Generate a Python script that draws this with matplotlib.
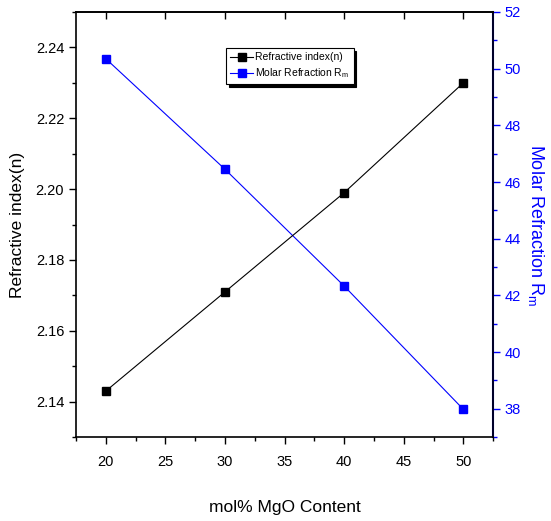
import matplotlib.pyplot as plt
from matplotlib.ticker import MultipleLocator

plt.rcParams['font.family'] = ['Liberation Sans', 'DejaVu Sans']
plt.rcParams['mathtext.fontset'] = 'custom'
plt.rcParams['mathtext.rm'] = 'Liberation Sans'
plt.rcParams['mathtext.it'] = 'Liberation Sans'

# data
mgo = [20, 30, 40, 50]
refr_index = [2.143, 2.171, 2.199, 2.230]
molar_refr = [50.35, 46.45, 42.33, 37.98]

fig = plt.figure(figsize=(5.51, 5.21), dpi=100)
ax = fig.add_axes([0.138, 0.161, 0.757, 0.816])
ax2 = ax.twinx()

l1, = ax.plot(mgo, refr_index, color='black', linewidth=0.8, marker='s',
              markersize=6, label='Refractive index(n)')
l2, = ax2.plot(mgo, molar_refr, color='blue', linewidth=0.8, marker='s',
               markersize=6, label='Molar Refraction R$_{\\mathrm{m}}$')

ax.set_xlim(17.5, 52.5)
ax.set_ylim(2.13, 2.25)
ax2.set_ylim(37, 52)

ax.xaxis.set_major_locator(MultipleLocator(5))
ax.xaxis.set_minor_locator(MultipleLocator(2.5))
ax.yaxis.set_major_locator(MultipleLocator(0.02))
ax.yaxis.set_minor_locator(MultipleLocator(0.01))
ax.yaxis.set_major_formatter(plt.FormatStrFormatter('%.2f'))
ax2.yaxis.set_major_locator(MultipleLocator(2))
ax2.yaxis.set_minor_locator(MultipleLocator(1))

ax.tick_params(axis='both', which='major', direction='out', length=5, width=1,
               labelsize=10.5)
ax.tick_params(axis='both', which='minor', direction='out', length=3, width=1)
ax.tick_params(axis='x', which='both', pad=8)
ax2.tick_params(axis='y', which='major', direction='out', length=5, width=1,
                labelsize=10.5, colors='blue')
ax2.tick_params(axis='y', which='minor', direction='out', length=3, width=1,
                colors='blue')

# inward major ticks on the top spine, no labels
top = ax.secondary_xaxis('top')
top.xaxis.set_major_locator(MultipleLocator(5))
top.tick_params(axis='x', direction='in', length=5, width=1, labeltop=False)
top.spines['top'].set_linewidth(1.2)

for s in ax.spines.values():
    s.set_linewidth(1.2)
ax2.spines['right'].set_color('blue')
ax2.spines['right'].set_linewidth(1.5)
ax2.spines['left'].set_visible(False)
ax2.spines['top'].set_visible(False)
ax2.spines['bottom'].set_visible(False)

ax.set_xlabel('mol% MgO Content', fontsize=12.5, labelpad=22)
ax.set_ylabel('Refractive index(n)', fontsize=12.5, labelpad=8)
ax2.set_ylabel('Molar Refraction R$_{\\mathrm{m}}$', fontsize=13, color='blue',
               rotation=270, labelpad=18)

leg = ax.legend(handles=[l1, l2], loc='upper left', bbox_to_anchor=(0.36, 0.915),
                fontsize=7.5, frameon=True, fancybox=False, edgecolor='black',
                shadow={'color': 'black', 'alpha': 1}, handlelength=2.2,
                handletextpad=0.2, borderpad=0.4, labelspacing=0.4,
                borderaxespad=0)
leg.get_frame().set_linewidth(0.8)
leg.set_zorder(5)
ax.set_zorder(ax2.get_zorder() + 1)
ax.patch.set_visible(False)

fig.savefig('out.png', dpi=100)
